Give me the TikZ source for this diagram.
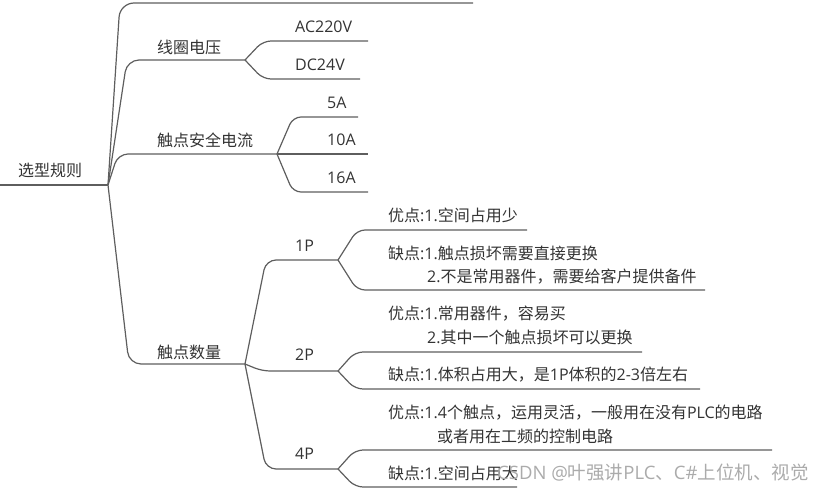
\documentclass[tikz,border=0pt]{standalone}
\usepackage{fontspec}
\setmainfont{Noto Sans CJK SC}
\newfontfamily\lat{Open Sans}
\newcommand{\lt}[1]{{\lat #1}}
\definecolor{ln}{HTML}{5E5E5E}
\definecolor{tx}{HTML}{333333}
\definecolor{wm}{HTML}{ABABAB}
\begin{document}
\begin{tikzpicture}[x=1pt,y=-1pt,
  br/.style={draw=ln,line width=1.2pt,rounded corners=8pt},
  lbl/.style={anchor=west,inner sep=0pt,text=tx,font=\fontsize{16}{19}\selectfont},
  wmark/.style={anchor=west,inner sep=0pt,text=wm,font=\fontsize{18.5}{22}\selectfont},
]
\useasboundingbox (0,0) rectangle (830,492);
% forks and ends
\coordinate (r0) at (0,185);
\coordinate (R) at (108,185);
\coordinate (tE) at (473,3);
\coordinate (F1) at (245,60);
\coordinate (F2) at (277,154);
\coordinate (F3) at (245,364);
\coordinate (a1) at (368,41);
\coordinate (a2) at (360,79);
\coordinate (b1) at (358,117);
\coordinate (b2) at (368,154);
\coordinate (b3) at (368,192);
\coordinate (G1) at (338,260);
\coordinate (G2) at (338,371);
\coordinate (G3) at (338,469);
\coordinate (g11) at (527,230);
\coordinate (g12) at (705,290);
\coordinate (g21) at (642,352);
\coordinate (g22) at (700,389);
\coordinate (g31) at (772,450);
\coordinate (g32) at (517,487);

% texts
\node[lbl] (root) at (18,170) {选型规则};
\node[lbl] (xq) at (157,47) {线圈电压};
\node[lbl] (ac) at (295,27) {\lt{AC220V}};
\node[lbl] (dc) at (295,65) {\lt{DC24V}};
\node[lbl] (aq) at (157,140) {触点安全电流};
\node[lbl] (i5) at (327,103) {\lt{5A}};
\node[lbl] (i10) at (327,140) {\lt{10A}};
\node[lbl] (i16) at (327,178) {\lt{16A}};
\node[lbl] (sl) at (157,352) {触点数量};
\node[lbl] (p1) at (295,246) {\lt{1P}};
\node[lbl] (p2) at (295,355) {\lt{2P}};
\node[lbl] (p4) at (295,454) {\lt{4P}};
\node[lbl] (t11) at (388,215) {优点\lt{:1.}空间占用少};
\node[lbl] (t12a) at (388,253) {缺点\lt{:1.}触点损坏需要直接更换};
\node[lbl] (t12b) at (427,277) {\lt{2.}不是常用器件，需要给客户提供备件};
\node[lbl] (t21a) at (388,314) {优点\lt{:1.}常用器件，容易买};
\node[lbl] (t21b) at (427,337) {\lt{2.}其中一个触点损坏可以更换};
\node[lbl] (t22) at (388,375) {缺点\lt{:1.}体积占用大，是\lt{1P}体积的\lt{2-3}倍左右};
\node[lbl] (t31a) at (388,413) {优点\lt{:1.4}个触点，运用灵活，一般用在没有\lt{PLC}的电路};
\node[lbl] (t31b) at (437,436) {或者用在工频的控制电路};
\node[lbl] (t32) at (388,473) {缺点\lt{:1.}空间占用大};
\node[wmark] (wm) at (497,473) {\lt{CSDN @}叶强讲\lt{PLC}、\lt{C\#}上位机、视觉};

% connectors
\draw[br] (r0) -- (R);
\draw[br,rounded corners=14pt] (R) -- (120,3) -- (tE);
\draw[br,rounded corners=12pt] (R) -- (127,60) -- (F1);
\draw[br,rounded corners=10pt] (R) -- (118,154) -- (F2);
\draw[br,rounded corners=12pt] (R) -- (129,364) -- (F3);
\draw[br] (F1) -- (263,41) -- (a1);
\draw[br] (F1) -- (263,79) -- (a2);
\draw[br] (F2) -- (293,117) -- (b1);
\draw[br] (F2) -- (b2);
\draw[br] (F2) -- (293,192) -- (b3);
\draw[br,rounded corners=10pt] (F3) -- (266,260) -- (G1);
\draw[br] (F3) -- (262,371) -- (G2);
\draw[br,rounded corners=10pt] (F3) -- (266,469) -- (G3);
\draw[br] (G1) -- (357,230) -- (g11);
\draw[br] (G1) -- (357,290) -- (g12);
\draw[br] (G2) -- (355,352) -- (g21);
\draw[br] (G2) -- (355,389) -- (g22);
\draw[br] (G3) -- (355,450) -- (g31);
\draw[br] (G3) -- (355,487) -- (g32);
\end{tikzpicture}
\end{document}
